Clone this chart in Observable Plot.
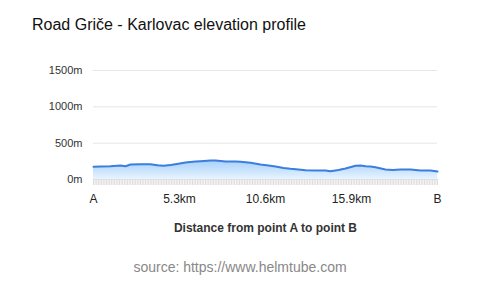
<!DOCTYPE html>
<html>
<head>
<meta charset="utf-8">
<script src="https://cdn.jsdelivr.net/npm/d3@7"></script>
<script src="https://cdn.jsdelivr.net/npm/@observablehq/plot@0.6"></script>
<style>
  html, body { margin: 0; padding: 0; background: #fff; }
  body { width: 480px; height: 287px; position: relative; overflow: hidden; font-family: "Liberation Sans", Arial, sans-serif; }
  #title { position: absolute; left: 32px; top: 16px; font-size: 16px; color: #111; white-space: nowrap; }
  #xlabel { position: absolute; left: 0; width: 531px; top: 221px; text-align: center; font-size: 12px; font-weight: bold; color: #333; }
  #source { position: absolute; left: 0; width: 480px; top: 259px; text-align: center; font-size: 14px; color: #888; }
  #chart { position: absolute; left: 0; top: 0; }
</style>
</head>
<body>
<div id="chart"></div>
<div id="title">Road Griče - Karlovac elevation profile</div>
<div id="xlabel">Distance from point A to point B</div>
<div id="source">source: https://www.helmtube.com</div>
<script>
// distance from point A (km)
const distanceKm = [0, 0.43, 1.05, 1.66, 1.97, 2.28, 2.90, 3.51, 3.94, 4.31, 4.75, 5.05, 5.67, 6.29, 6.60, 7.21, 7.52, 8.14, 8.75, 9.06, 9.68, 10.29, 10.79, 11.22, 11.71, 12.14, 12.63, 13.07, 13.68, 14.30, 14.60, 15.10, 15.53, 16.15, 16.46, 16.76, 17.07, 17.38, 17.99, 18.43, 18.92, 19.54, 20.15, 20.77, 21.2];
// elevation (m)
const elevationM = [175, 179, 183, 193, 183, 207, 209, 211, 197, 189, 200, 211, 234, 248, 252, 262, 262, 248, 248, 244, 230, 207, 193, 179, 158, 147, 138, 128, 124, 124, 114, 131, 151, 189, 193, 183, 179, 169, 138, 131, 138, 138, 124, 124, 110];
// axis ticks
const xTickValues = [0, 5.3, 10.6, 15.9, 21.2];
const xTickLabels = ["A", "5.3km", "10.6km", "15.9km", "B"];
const yTickValues = [0, 500, 1000, 1500];

const data = distanceKm.map((d, i) => ({d, e: elevationM[i]}));
const labelOf = new Map(xTickValues.map((v, i) => [v, xTickLabels[i]]));

const plot = Plot.plot({
  width: 480,
  height: 287,
  marginLeft: 93,
  marginRight: 43,
  marginTop: 70,
  marginBottom: 108,
  style: {fontFamily: "Liberation Sans, Arial, sans-serif", background: "#fff"},
  x: {domain: [0, 21.2]},
  y: {domain: [0, 1500]},
  marks: [
    () => {
      const ns = "http://www.w3.org/2000/svg";
      const defs = document.createElementNS(ns, "defs");
      defs.innerHTML = `<linearGradient id="elevGrad" x1="0" y1="0" x2="0" y2="1">
        <stop offset="0%" stop-color="#a6d0fa"/>
        <stop offset="100%" stop-color="#e8f4ff"/>
      </linearGradient>`;
      return defs;
    },
    Plot.gridY(yTickValues, {stroke: "#e6e6e6", strokeOpacity: 1, strokeWidth: 1}),
    Plot.axisY(yTickValues, {tickSize: 0, tickPadding: 11, fontSize: 11, fill: "#333", tickFormat: d => d + "m", label: null}),
    Plot.axisX({ticks: 150, tickSize: 6, tickPadding: 0, text: null, stroke: "#dcdcdc", strokeWidth: 1, label: null}),
    Plot.areaY(data, {x: "d", y: "e", fill: "url(#elevGrad)", curve: "linear"}),
    Plot.lineY(data, {x: "d", y: "e", stroke: "#3a7ee0", strokeWidth: 2, curve: "linear"}),
    Plot.axisX(xTickValues, {tickSize: 0, tickPadding: 15, fontSize: 12, fill: "#222", tickFormat: v => labelOf.get(v), label: null})
  ]
});
document.getElementById("chart").append(plot);
</script>
</body>
</html>
